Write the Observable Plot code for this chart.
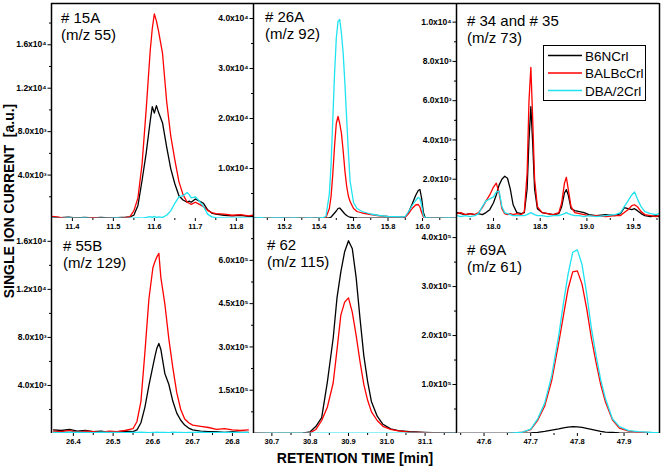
<!DOCTYPE html>
<html><head><meta charset="utf-8">
<script src="https://cdn.jsdelivr.net/npm/d3@7"></script>
<script src="https://cdn.jsdelivr.net/npm/@observablehq/plot@0.6"></script>
<style>
body{margin:0;background:#fff;}
#chart{position:relative;width:662px;height:468px;font-family:"Liberation Sans",Arial,sans-serif;overflow:hidden;}
#chart svg{position:absolute;overflow:visible;background:transparent;max-width:none;}
#chart svg g[aria-label$="tick label"] text{font-weight:bold;}
</style></head><body><div id="chart"></div><script>
// ---------- data ----------
const seriesNames = ["B6NCrl", "BALBcCrl", "DBA/2Crl"];
const seriesColors = ["#000000", "#ff0000", "#1fe3f0"];

// # 15A (m/z 55)
const t15A = [11.35,11.37,11.39,11.41,11.43,11.45,11.47,11.49,11.51,11.53,11.54,11.55,11.56,11.57,11.58,11.59,11.595,11.60,11.605,11.61,11.62,11.63,11.64,11.65,11.66,11.67,11.68,11.685,11.69,11.70,11.71,11.72,11.73,11.74,11.75,11.77,11.79,11.81,11.83,11.84];
const b6_15A = [150,80,120,60,100,50,90,60,80,120,150,300,1200,3500,6000,9000,10300,9700,10400,9800,8800,6600,4600,3200,2100,1700,1500,1600,1500,1800,1600,1400,800,500,400,300,250,300,200,200];
const balb_15A = [200,100,50,60,40,80,30,60,40,80,150,700,1900,5000,10000,15500,17500,18850,18200,17300,15200,10800,7600,5400,3400,2200,1500,1400,1300,1500,1300,1100,750,550,450,400,300,350,250,300];
const dba_15A = [40,20,50,30,60,20,40,30,50,20,40,30,60,40,100,180,100,200,80,150,100,300,700,1400,2000,2100,2400,2200,1900,2000,1600,1100,400,150,80,60,40,50,30,40];

// # 26A (m/z 92)
const t26A = [15.02,15.06,15.10,15.14,15.18,15.22,15.26,15.30,15.34,15.38,15.42,15.44,15.46,15.47,15.48,15.49,15.50,15.51,15.52,15.53,15.54,15.55,15.56,15.57,15.58,15.60,15.62,15.65,15.70,15.75,15.80,15.85,15.88,15.90,15.92,15.94,15.96,15.975,15.985,15.995,16.005,16.015,16.04,16.10,16.15,16.19];
const b6_26A = [50,30,60,40,50,30,40,60,30,50,40,50,100,300,700,1100,1500,2000,2100,1700,1300,900,600,400,250,150,100,80,60,50,60,80,150,300,1300,2900,4600,5600,5800,4000,1200,200,80,50,40,50];
const balb_26A = [120,60,100,80,50,90,70,100,60,80,100,200,2000,4500,9000,14500,19000,20400,19000,17000,13500,9500,6500,4500,3400,2000,1400,1100,800,550,400,300,300,300,1000,2000,2700,2800,2300,1200,300,100,80,60,80,60];
const dba_26A = [100,150,80,120,100,60,120,90,100,80,150,400,5000,11000,20000,29000,36000,39400,39800,37000,33000,27000,20000,13400,7500,3200,2000,1400,900,600,400,350,300,400,1400,2600,3600,4200,4000,2600,600,150,100,80,100,90];

// # 34 and # 35 (m/z 73)
const t3435 = [17.61,17.65,17.70,17.75,17.80,17.84,17.88,17.92,17.96,18.00,18.03,18.06,18.09,18.12,18.15,18.18,18.21,18.25,18.30,18.33,18.36,18.38,18.40,18.42,18.44,18.47,18.52,18.58,18.64,18.70,18.73,18.76,18.78,18.80,18.83,18.87,18.92,18.97,19.02,19.10,19.20,19.30,19.36,19.40,19.44,19.48,19.51,19.54,19.58,19.62,19.68,19.74,19.77];
const b6_3435 = [300,250,200,250,200,250,200,300,450,800,1200,1700,2000,2150,2050,1500,700,300,250,300,1500,4000,5700,3800,1500,500,300,250,200,250,600,1300,1470,1200,500,400,350,300,200,150,200,150,250,550,500,450,500,400,250,150,100,150,100];
const balb_3435 = [250,300,200,250,200,300,550,900,1200,1600,1800,1300,500,250,200,250,200,250,200,350,2300,6000,7700,5000,2000,600,300,250,200,300,800,1800,2100,1500,600,300,250,200,150,150,100,150,150,300,450,650,700,600,350,200,150,100,150];
const dba_3435 = [150,100,150,100,150,250,600,900,1000,1100,1350,1400,600,300,250,200,150,150,150,150,200,250,300,250,200,150,150,100,150,150,200,250,300,250,200,150,150,100,150,100,150,200,300,600,900,1200,1350,1000,600,350,250,200,250];

// # 55B (m/z 129)
const t55B = [26.35,26.37,26.39,26.41,26.43,26.45,26.47,26.49,26.51,26.53,26.55,26.56,26.57,26.58,26.59,26.60,26.605,26.61,26.615,26.62,26.63,26.64,26.65,26.66,26.67,26.68,26.69,26.70,26.72,26.74,26.76,26.78,26.80,26.82,26.84];
const b6_55B = [300,250,350,200,250,150,200,100,150,200,150,300,900,2200,4000,5600,6400,7100,7500,7000,5000,4100,2700,1700,1100,700,450,300,200,150,150,100,150,100,100];
const balb_55B = [200,150,250,100,200,150,100,200,150,250,400,1000,2700,6800,11200,13800,14300,14700,15000,13000,10800,7900,5500,3400,2000,1200,900,700,600,500,350,400,300,250,300];
const dba_55B = [100,80,120,90,100,80,110,90,100,80,100,90,110,100,80,100,90,110,100,90,100,80,110,90,100,80,100,90,110,80,100,90,100,80,100];

// # 62 (m/z 115)
const t62 = [30.655,30.70,30.75,30.78,30.80,30.815,30.83,30.845,30.86,30.87,30.88,30.89,30.90,30.91,30.92,30.93,30.94,30.95,30.96,30.975,30.99,31.01,31.03,31.06,31.10,31.14,31.18];
const b6_62 = [0,0,0,1000,6000,25000,55000,180000,330000,470000,560000,630000,668000,640000,540000,400000,270000,180000,110000,60000,32000,16000,10000,6000,3500,2000,1500];
const balb_62 = [2000,0,0,500,3000,14000,45000,92000,175000,290000,410000,455000,470000,420000,340000,250000,170000,115000,75000,45000,25000,14000,9000,5000,3000,2000,1500];
const dba_62 = [1500,1000,1200,1000,1100,1000,1200,1000,1100,1000,1200,1000,1100,1000,1200,1000,1100,1000,1200,1000,1100,1000,1200,1000,1100,1000,1200];

// # 69A (m/z 61)
const t69A = [47.545,47.60,47.65,47.68,47.70,47.715,47.73,47.745,47.76,47.77,47.78,47.79,47.80,47.81,47.82,47.83,47.84,47.85,47.86,47.875,47.89,47.91,47.93,47.96,47.975];
const b6_69A = [0,0,0,300,1000,2500,4500,7000,9500,11500,13000,14000,13500,12500,10500,8500,6500,4500,3000,2000,1200,700,400,200,100];
const balb_69A = [0,0,500,2000,8000,27000,56000,108000,185000,240000,295000,330000,332000,305000,255000,195000,145000,100000,65000,28000,11000,5000,3000,1500,1000];
const dba_69A = [0,0,500,2000,9000,30000,62000,118000,200000,265000,325000,370000,375000,345000,285000,215000,160000,110000,72000,30000,14000,6000,4000,2000,1500];

// tick values and labels
const yTicks15A = [4000,8000,12000,16000], yLabels15A = ["4.0x10³","8.0x10³","1.2x10⁴","1.6x10⁴"], yMinor15A = [2000,6000,10000,14000,18000];
const yTicks26A = [10000,20000,30000,40000], yLabels26A = ["1.0x10⁴","2.0x10⁴","3.0x10⁴","4.0x10⁴"], yMinor26A = [5000,15000,25000,35000];
const yTicks3435 = [2000,4000,6000,8000,10000], yLabels3435 = ["2.0x10³","4.0x10³","6.0x10³","8.0x10³","1.0x10⁴"], yMinor3435 = [1000,3000,5000,7000,9000];
const yTicks55B = [4000,8000,12000,16000], yLabels55B = ["4.0x10³","8.0x10³","1.2x10⁴","1.6x10⁴"], yMinor55B = [2000,6000,10000,14000];
const yTicks62 = [150000,300000,450000,600000], yLabels62 = ["1.5x10⁵","3.0x10⁵","4.5x10⁵","6.0x10⁵"], yMinor62 = [75000,225000,375000,525000,675000];
const yTicks69A = [100000,200000,300000,400000], yLabels69A = ["1.0x10⁵","2.0x10⁵","3.0x10⁵","4.0x10⁵"], yMinor69A = [50000,150000,250000,350000];

const xTicks15A = [11.4,11.5,11.6,11.7,11.8], xMinor15A = [11.45,11.55,11.65,11.75];
const xTicks26A = [15.2,15.4,15.6,15.8,16.0], xMinor26A = [15.1,15.3,15.5,15.7,15.9,16.1];
const xTicks3435 = [18.0,18.5,19.0,19.5], xMinor3435 = [17.75,18.25,18.75,19.25,19.75];
const xTicks55B = [26.4,26.5,26.6,26.7,26.8], xMinor55B = [26.45,26.55,26.65,26.75];
const xTicks62 = [30.7,30.8,30.9,31.0,31.1], xMinor62 = [30.75,30.85,30.95,31.05,31.15];
const xTicks69A = [47.6,47.7,47.8,47.9], xMinor69A = [47.55,47.65,47.75,47.85,47.95];

// ---------- layout ----------
const colX = [51, 253, 456, 659];
const rowY = [3, 218, 433];

const panels = [
  {title:["# 15A","(m/z 55)"], col:0, row:0, t:t15A, ys:[b6_15A,balb_15A,dba_15A], xd:[11.349,11.842], yd:[0,19800], xT:xTicks15A, xM:xMinor15A, yT:yTicks15A, yL:yLabels15A, yM:yMinor15A, lab:[10,20]},
  {title:["# 26A","(m/z 92)"], col:1, row:0, t:t26A, ys:[b6_26A,balb_26A,dba_26A], xd:[15.020,16.197], yd:[0,43000], xT:xTicks26A, xM:xMinor26A, yT:yTicks26A, yL:yLabels26A, yM:yMinor26A, lab:[12,19]},
  {title:["# 34 and # 35","(m/z 73)"], col:2, row:0, t:t3435, ys:[b6_3435,balb_3435,dba_3435], xd:[17.604,19.777], yd:[0,10950], xT:xTicks3435, xM:xMinor3435, yT:yTicks3435, yL:yLabels3435, yM:yMinor3435, lab:[11,23]},
  {title:["# 55B","(m/z 129)"], col:0, row:1, t:t55B, ys:[b6_55B,balb_55B,dba_55B], xd:[26.345,26.853], yd:[0,17900], xT:xTicks55B, xM:xMinor55B, yT:yTicks55B, yL:yLabels55B, yM:yMinor55B, lab:[12,33]},
  {title:["# 62","(m/z 115)"], col:1, row:1, t:t62, ys:[b6_62,balb_62,dba_62], xd:[30.652,31.182], yd:[0,745000], xT:xTicks62, xM:xMinor62, yT:yTicks62, yL:yLabels62, yM:yMinor62, lab:[14,32]},
  {title:["# 69A","(m/z 61)"], col:2, row:1, t:t69A, ys:[b6_69A,balb_69A,dba_69A], xd:[47.541,47.976], yd:[0,439000], xT:xTicks69A, xM:xMinor69A, yT:yTicks69A, yL:yLabels69A, yM:yMinor69A, lab:[11,37]}
];

const chart = document.getElementById("chart");

for (const p of panels) {
  const x0 = colX[p.col], x1 = colX[p.col + 1], y0 = rowY[p.row], y1 = rowY[p.row + 1];
  const w = x1 - x0, h = y1 - y0;
  const yMap = new Map(p.yT.map((v, i) => [v, p.yL[i]]));
  const lines = p.ys.map((vals, s) =>
    Plot.line(p.t.map((t, i) => ({t, v: vals[i]})), {x: "t", y: "v", stroke: seriesColors[s], strokeWidth: 1.3, clip: true}));
  const marks = [
    ...lines,
    Plot.axisY({ticks: p.yM, anchor: "left", tickSize: 2, tickFormat: () => "", label: null, strokeWidth: 1}),
    Plot.axisY({ticks: p.yT, anchor: "left", tickSize: 3.5, tickPadding: 1.5, tickFormat: d => yMap.get(d), label: null, strokeWidth: 1, fontSize: 8.5, fontWeight: "bold"}),
    Plot.axisX({ticks: p.xM, anchor: "bottom", tickSize: 2, tickFormat: () => "", label: null, strokeWidth: 1}),
    Plot.axisX({ticks: p.xT, anchor: "bottom", tickSize: 3, tickPadding: 2, tickFormat: d => d.toFixed(1), label: null, strokeWidth: 1, fontSize: 7.5, fontWeight: "bold"}),
    Plot.ruleX([p.xd[0]], {stroke: "black", strokeWidth: 1.5})
  ];
  if (p.row === 0) marks.push(Plot.ruleY([p.yd[1]], {stroke: "black", strokeWidth: 1.5}));
  if (p.col === 2) marks.push(Plot.ruleX([p.xd[1]], {stroke: "black", strokeWidth: 1.5}));
  const svg = Plot.plot({
    width: w, height: h, margin: 0,
    x: {domain: p.xd}, y: {domain: p.yd},
    marks
  });
  svg.style.position = "absolute";
  svg.style.left = x0 + "px";
  svg.style.top = y0 + "px";
  svg.style.overflow = "visible";
  svg.style.background = "transparent";
  svg.style.maxWidth = "none";
  svg.style.font = "bold 7.5px 'Liberation Sans', Arial, sans-serif";
  svg.style.color = "black";
  chart.appendChild(svg);
}

// ---------- overlay: titles, panel labels, legend ----------
const ov = d3.create("svg").attr("width", 662).attr("height", 468)
  .style("left", "0px").style("top", "0px").style("pointer-events", "none")
  .style("font-family", "'Liberation Sans', Arial, sans-serif");

for (const p of panels) {
  const tx = ov.append("text").attr("font-size", 15).attr("fill", "black");
  p.title.forEach((line, i) => {
    tx.append("tspan").attr("x", colX[p.col] + p.lab[0]).attr("y", rowY[p.row] + p.lab[1] + i * 17).text(line);
  });
}

ov.append("text").attr("transform", "translate(14,201) rotate(-90)").attr("text-anchor", "middle")
  .attr("font-size", 14).attr("font-weight", "bold").style("white-space", "pre")
  .text("SINGLE ION CURRENT  [a.u.]");
ov.append("text").attr("x", 355).attr("y", 462.5).attr("text-anchor", "middle")
  .attr("font-size", 14).attr("font-weight", "bold").text("RETENTION TIME [min]");

const lg = ov.append("g");
lg.append("rect").attr("x", 543.5).attr("y", 45.5).attr("width", 102).attr("height", 55)
  .attr("fill", "white").attr("stroke", "black").attr("stroke-width", 1);
seriesNames.forEach((name, i) => {
  const yy = 55.5 + i * 17.5;
  lg.append("line").attr("x1", 548).attr("x2", 582).attr("y1", yy).attr("y2", yy)
    .attr("stroke", seriesColors[i]).attr("stroke-width", 1.5);
  lg.append("text").attr("x", 585).attr("y", yy + 5).attr("font-size", 13.5).text(name);
});

chart.appendChild(ov.node());
</script></body></html>
